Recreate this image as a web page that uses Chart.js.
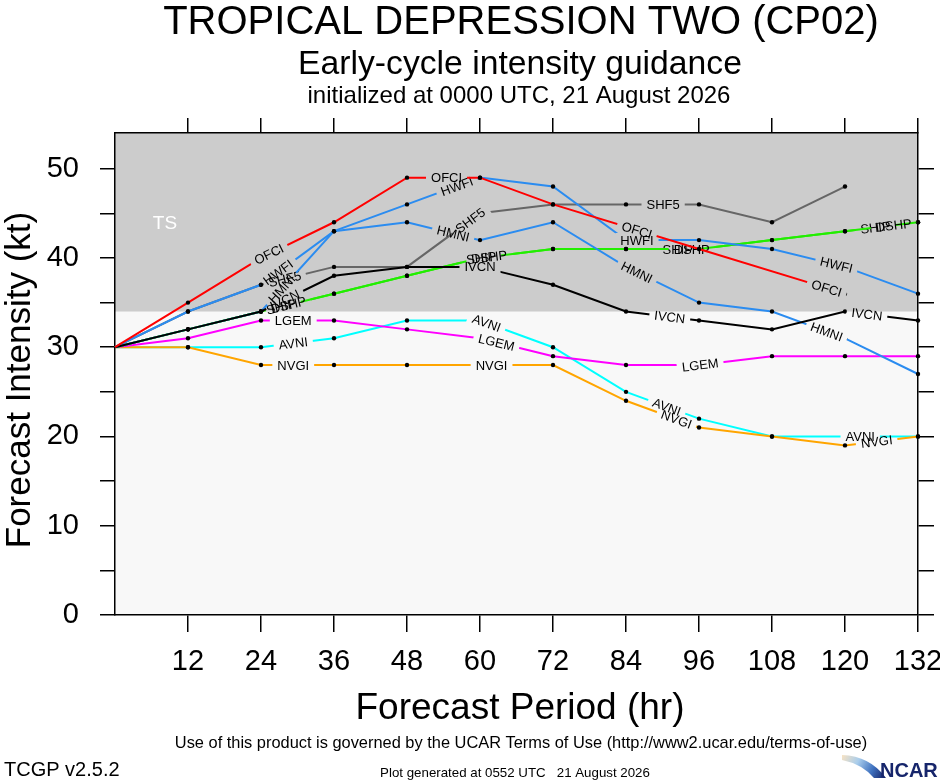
<!DOCTYPE html>
<html lang="en">
<head>
<meta charset="UTF-8">
<title>TD Two (CP02) - Early-cycle intensity guidance</title>
<style>
    body {
        margin: 0;
        background: #fff;
    }
    #wrap {
        width: 940px;
        height: 780px;
    }
</style>
<script src="https://cdn.jsdelivr.net/npm/chart.js"></script>
</head>
<body>
<div id="wrap"><canvas id="tcgp" width="940" height="780"></canvas></div>
<script>
// forecast hours and model intensities (kt), null = no forecast at that hour
const hours = [0, 12, 24, 36, 48, 60, 72, 84, 96, 108, 120, 132];

const ofci = [30, 35, 40, 44, 49, 49, 46, null, 41, null, 36, null];
const hwfi = [30, 34, 37, 43, 46, 49, 48, 42, 42, 41, 39, 36];
const hmni = [30, 32, 34, 43, 44, 42, 44, 39, 35, 34, 31, 27];
const shf5 = [30, 34, 37, 39, 39, 45, 46, 46, 46, 44, 48, null];
const dshp = [30, 32, 34, 36, 38, 40, 41, 41, 41, 42, 43, 44];
const ship = [30, 32, 34, 36, 38, 40, 41, 41, 41, 42, 43, 44];
const ivcn = [30, 32, 34, 38, 39, 39, 37, 34, 33, 32, 34, 33];
const lgem = [30, 31, 33, 33, 32, 31, 29, 28, 28, 29, 29, 29];
const avni = [30, 30, 30, 31, 33, 33, 30, 25, 22, 20, 20, 20];
const nvgi = [30, 30, 28, 28, 28, 28, 28, 24, 21, 20, 19, 20];

// forecast hours where each line carries its in-line label
const ofciLabelHrs = [25.3, 54.5, 85.8, 117];
const hwfiLabelHrs = [26.8, 56.2, 85.8, 118.6];
const hmniLabelHrs = [27.4, 55.6, 85.8, 117];
const shf5LabelHrs = [27.9, 58.4, 90.1];
const dshpLabelHrs = [28.5, 61.5, 94.8, 128];
const shipLabelHrs = [27.3, 60.2, 92.5, 125];
const ivcnLabelHrs = [27.9, 60, 91.2, 123.6];
const lgemLabelHrs = [29.3, 62.7, 96.2];
const avniLabelHrs = [29.3, 61.1, 90.7, 122.5];
const nvgiLabelHrs = [29.3, 61.9, 92.3, 125.2];

const tsThreshold = 34;   // tropical storm wind speed
const yMax = 54;

const SANS = "'Liberation Sans', Arial, Helvetica, sans-serif";
const LABEL_FONT = '13px ' + SANS;

// first entry is drawn on top (Chart.js paints dataset 0 last)
const models = [
    ['OFCI', ofci, '#ff0000', ofciLabelHrs],
    ['IVCN', ivcn, '#000000', ivcnLabelHrs],
    ['HWFI', hwfi, '#2b8cf0', hwfiLabelHrs],
    ['HMNI', hmni, '#2b8cf0', hmniLabelHrs],
    ['SHF5', shf5, '#666666', shf5LabelHrs],
    ['DSHP', dshp, '#22ee00', dshpLabelHrs],
    ['SHIP', ship, '#22ee00', shipLabelHrs],
    ['LGEM', lgem, '#ff00ff', lgemLabelHrs],
    ['NVGI', nvgi, '#ffa500', nvgiLabelHrs],
    ['AVNI', avni, '#00ffff', avniLabelHrs]
];

const datasets = models.map(([name, vals, color, labelHrs]) => ({
    label: name,
    data: hours.map((h, i) => ({ x: h, y: vals[i] })).filter(p => p.y !== null),
    borderColor: color,
    borderWidth: 2,
    pointRadius: ctx => (ctx.raw && ctx.raw.x === 0 ? 0 : 2.2),
    pointBackgroundColor: '#000',
    pointBorderWidth: 0,
    tension: 0,
    clip: 6,
    labelHrs: labelHrs
}));

// where a label sits on its line: pixel centre and the angle of that segment
function labelSpot(chart, ds, h) {
    const pts = ds.data;
    let i = 0;
    while (i < pts.length - 2 && pts[i + 1].x < h) i++;
    const a = pts[i], b = pts[i + 1];
    const t = (h - a.x) / (b.x - a.x);
    const xs = chart.scales.x, ys = chart.scales.y;
    const v = a.y + t * (b.y - a.y);
    const ang = Math.atan2(ys.getPixelForValue(b.y) - ys.getPixelForValue(a.y),
                           xs.getPixelForValue(b.x) - xs.getPixelForValue(a.x));
    return { px: xs.getPixelForValue(h), py: ys.getPixelForValue(v), ang: ang };
}

const lineLabels = {
    id: 'lineLabels',
    // cut a hole in the line where each of its labels goes
    beforeDatasetDraw(chart, args) {
        const ds = chart.data.datasets[args.index];
        const ctx = chart.ctx;
        ctx.save();
        ctx.font = LABEL_FONT;
        const hw = ctx.measureText(ds.label).width / 2 + 5;
        const hh = 7;
        ctx.beginPath();
        ctx.rect(0, 0, chart.width, chart.height);
        ds.labelHrs.forEach(h => {
            const s = labelSpot(chart, ds, h);
            const c = Math.cos(s.ang), n = Math.sin(s.ang);
            const pts = [[-hw, -hh], [hw, -hh], [hw, hh], [-hw, hh]]
                .map(([u, v]) => [s.px + u * c - v * n, s.py + u * n + v * c]);
            ctx.moveTo(pts[0][0], pts[0][1]);
            for (let k = 1; k < 4; k++) ctx.lineTo(pts[k][0], pts[k][1]);
            ctx.closePath();
        });
        ctx.clip('evenodd');
    },
    afterDatasetDraw(chart, args) {
        const ds = chart.data.datasets[args.index];
        const ctx = chart.ctx;
        ctx.restore();
        ctx.save();
        ctx.font = LABEL_FONT;
        ctx.fillStyle = '#000';
        ctx.textAlign = 'center';
        ctx.textBaseline = 'middle';
        ds.labelHrs.forEach(h => {
            const s = labelSpot(chart, ds, h);
            ctx.save();
            ctx.translate(s.px, s.py);
            ctx.rotate(s.ang);
            ctx.fillText(ds.label, 0, 1);
            ctx.restore();
        });
        ctx.restore();
    }
};

const backdrop = {
    id: 'backdrop',
    beforeDraw(chart) {
        const { ctx, chartArea: a, scales } = chart;
        ctx.save();
        ctx.fillStyle = '#fff';
        ctx.fillRect(0, 0, chart.width, chart.height);
        ctx.fillStyle = '#f8f8f8';
        ctx.fillRect(a.left, a.top, a.right - a.left, a.bottom - a.top);
        const yTs = scales.y.getPixelForValue(tsThreshold);
        ctx.fillStyle = '#cccccc';
        ctx.fillRect(a.left, a.top, a.right - a.left, yTs - a.top);
        ctx.fillStyle = '#fff';
        ctx.font = '19px ' + SANS;
        ctx.textAlign = 'center';
        ctx.fillText('TS', 165, 229);
        ctx.restore();
    }
};

const texts = {
    id: 'texts',
    afterDraw(chart) {
        const ctx = chart.ctx;
        ctx.save();
        ctx.fillStyle = '#000';
        ctx.textAlign = 'center';
        ctx.textBaseline = 'alphabetic';
        ctx.font = '40px ' + SANS;
        ctx.fillText('TROPICAL DEPRESSION TWO (CP02)', 521, 34);
        ctx.font = '33.7px ' + SANS;
        ctx.fillText('Early-cycle intensity guidance', 520, 74);
        ctx.font = '24px ' + SANS;
        ctx.fillText('initialized at 0000 UTC, 21 August 2026', 519, 103);

        // axis titles
        ctx.font = '37px ' + SANS;
        ctx.fillText('Forecast Period (hr)', 520, 719);
        ctx.save();
        ctx.translate(30, 380);
        ctx.rotate(-Math.PI / 2);
        ctx.font = '35px ' + SANS;
        ctx.fillText('Forecast Intensity (kt)', 0, 0);
        ctx.restore();

        // footer
        ctx.font = '16.4px ' + SANS;
        ctx.fillText('Use of this product is governed by the UCAR Terms of Use (http://www2.ucar.edu/terms-of-use)', 521, 748);
        ctx.font = '13.3px ' + SANS;
        ctx.fillText('Plot generated at 0552 UTC   21 August 2026', 515, 777);
        ctx.textAlign = 'left';
        ctx.font = '20px ' + SANS;
        ctx.fillText('TCGP v2.5.2', 4, 776);

        // NCAR logo: swoosh plus wordmark
        const g = ctx.createLinearGradient(842, 756, 884, 778);
        g.addColorStop(0, '#f6e2c4');
        g.addColorStop(0.35, '#a9cdec');
        g.addColorStop(0.7, '#3f72c0');
        g.addColorStop(1, '#16256b');
        ctx.fillStyle = g;
        ctx.beginPath();
        ctx.moveTo(842, 755);
        ctx.quadraticCurveTo(870, 756, 886, 778);
        ctx.lineTo(874, 778);
        ctx.quadraticCurveTo(862, 764, 842, 760);
        ctx.closePath();
        ctx.fill();
        ctx.fillStyle = '#16256b';
        ctx.font = 'bold 20px ' + SANS;
        ctx.fillText('NCAR', 880, 777);
        ctx.restore();
    }
};

const tickGrid = {
    display: true,
    drawOnChartArea: false,
    drawTicks: true,
    tickLength: 15,
    color: '#000',
    tickColor: '#000',
    lineWidth: 1.5
};
const axisBorder = { display: true, color: '#000', width: 1.5 };
const dropZero = scale => { scale.ticks = scale.ticks.filter(t => t.value !== 0); };

new Chart(document.getElementById('tcgp'), {
    type: 'line',
    data: { datasets: datasets },
    options: {
        responsive: false,
        animation: false,
        events: [],
        layout: { padding: 0, autoPadding: false },
        plugins: {
            legend: { display: false },
            title: { display: false },
            tooltip: { enabled: false }
        },
        scales: {
            x: {
                type: 'linear',
                position: 'bottom',
                min: 0,
                max: 132,
                afterBuildTicks: dropZero,
                afterFit: s => { s.height = 165; s.paddingLeft = 0; s.paddingRight = 0; },
                ticks: {
                    stepSize: 12,
                    autoSkip: false,
                    maxRotation: 0,
                    padding: 13,
                    color: '#000',
                    font: { family: SANS, size: 29 },
                    callback: v => String(v)
                },
                grid: Object.assign({}, tickGrid, { tickLength: 17 }),
                border: axisBorder
            },
            x2: {
                type: 'linear',
                position: 'top',
                min: 0,
                max: 132,
                afterBuildTicks: dropZero,
                afterFit: s => { s.height = 133; s.paddingLeft = 0; s.paddingRight = 0; },
                ticks: { stepSize: 12, display: false },
                grid: tickGrid,
                border: axisBorder
            },
            y: {
                type: 'linear',
                position: 'left',
                min: 0,
                max: yMax,
                afterFit: s => { s.width = 115; s.paddingTop = 0; s.paddingBottom = 0; },
                ticks: {
                    stepSize: 5,
                    includeBounds: false,
                    autoSkip: false,
                    padding: 21,
                    color: '#000',
                    font: { family: SANS, size: 29 },
                    callback: v => (v % 10 === 0 ? String(v) : '')
                },
                grid: tickGrid,
                border: axisBorder
            },
            y2: {
                type: 'linear',
                position: 'right',
                min: 0,
                max: yMax,
                afterFit: s => { s.width = 22; s.paddingTop = 0; s.paddingBottom = 0; },
                ticks: { stepSize: 5, includeBounds: false, display: false },
                grid: Object.assign({}, tickGrid, { tickLength: 16 }),
                border: axisBorder
            }
        }
    },
    plugins: [backdrop, lineLabels, texts]
});
</script>
</body>
</html>
